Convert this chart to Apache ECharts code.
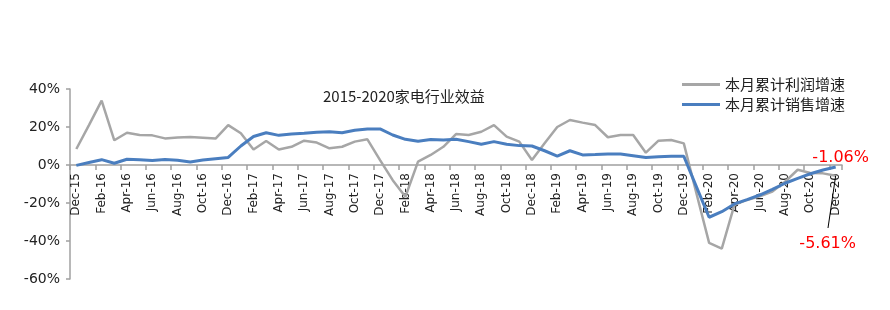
<!DOCTYPE html>
<html>
<head>
<meta charset="utf-8">
<title>2015-2020家电行业效益</title>
<script src="https://cdn.jsdelivr.net/npm/echarts@6/dist/echarts.min.js"></script>
<style>
  html, body { margin: 0; padding: 0; background: #fff; }
  #chart { width: 890px; height: 310px; }
</style>
</head>
<body>
<div id="chart"></div>
<script>
var months = [
  'Dec-15',
  'Jan-16','Feb-16','Mar-16','Apr-16','May-16','Jun-16','Jul-16','Aug-16','Sep-16','Oct-16','Nov-16','Dec-16',
  'Jan-17','Feb-17','Mar-17','Apr-17','May-17','Jun-17','Jul-17','Aug-17','Sep-17','Oct-17','Nov-17','Dec-17',
  'Jan-18','Feb-18','Mar-18','Apr-18','May-18','Jun-18','Jul-18','Aug-18','Sep-18','Oct-18','Nov-18','Dec-18',
  'Jan-19','Feb-19','Mar-19','Apr-19','May-19','Jun-19','Jul-19','Aug-19','Sep-19','Oct-19','Nov-19','Dec-19',
  'Jan-20','Feb-20','Mar-20','Apr-20','May-20','Jun-20','Jul-20','Aug-20','Sep-20','Oct-20','Nov-20','Dec-20'
];

// 本月累计利润增速 (%)
var profit = [
  8.4,
  21, 33.9, 13, 17, 15.8, 15.6, 14, 14.5, 14.7, 14.4, 13.9, 21,
  16.7, 8.2, 12.6, 8.2, 9.6, 12.8, 11.8, 8.8, 9.6, 12.3, 13.5, 2.6,
  -8, -16.7, 1.8, 5.3, 9.6, 16.3, 15.8, 17.5, 21, 14.9, 12.3, 2.6,
  11.4, 20, 23.7, 22.3, 21, 14.6, 15.8, 15.8, 6.5, 12.8, 13.2, 11.4,
  -15, -41, -44, -21, -18.4, -16.5, -14, -8.8, -2.5, -4.2, -4.4, -5.61
];

// 本月累计销售增速 (%)
var sales = [
  -0.2,
  1.3, 2.8, 0.9, 3, 2.8, 2.4, 2.9, 2.5, 1.6, 2.6, 3.3, 4,
  10, 15, 17, 15.6, 16.3, 16.7, 17.2, 17.5, 17, 18.3, 19, 19,
  15.8, 13.5, 12.5, 13.4, 13.2, 13.5, 12.3, 10.9, 12.3, 10.9, 10.2, 10,
  7.5, 4.7, 7.5, 5.3, 5.5, 5.8, 5.8, 4.9, 3.9, 4.4, 4.6, 4.6,
  -11.5, -27.5, -24.6, -20.5, -18.2, -15.8, -12.8, -9.6, -7, -4.6, -2.6, -1.06
];

var fontLatin = 'DejaVu Sans';
var fontCjk = '"Noto Sans CJK SC", "DejaVu Sans", sans-serif';
var gray = '#a6a6a6';
var blue = '#4a7ebf';
var red = '#ff0000';
var axisColor = '#a0a0a0';

var chart = echarts.init(document.getElementById('chart'));

var lastMonth = months[months.length - 1];
var lastProfit = profit[profit.length - 1];
var lastSales = sales[sales.length - 1];

// red value label at the last point of a series
function endMark(value, offset) {
  return {
    symbol: 'circle',
    symbolSize: 0,
    silent: true,
    label: {
      show: true, position: 'inside', offset: offset,
      formatter: value.toFixed(2) + '%',
      color: red, fontSize: 16, fontFamily: fontLatin
    },
    data: [{ coord: [lastMonth, value] }]
  };
}

var option = {
  animation: false,
  title: {
    text: '2015-2020家电行业效益',
    left: 318,
    top: 84,
    textStyle: { fontSize: 15, fontWeight: 'normal', color: '#222', fontFamily: fontCjk }
  },
  legend: {
    orient: 'vertical',
    right: 40,
    top: 72,
    itemGap: 5,
    itemWidth: 38,
    itemHeight: 3,
    icon: 'rect',
    textStyle: { fontSize: 15, color: '#222', fontFamily: fontCjk },
    data: ['本月累计利润增速', '本月累计销售增速']
  },
  grid: { left: 70, right: 48, top: 89, bottom: 31, containLabel: false, outerBoundsMode: 'none' },
  xAxis: {
    type: 'category',
    data: months,
    boundaryGap: true,
    offset: -114, // axis sits on the 0% line
    axisLine: { onZero: false, lineStyle: { color: axisColor, width: 1.5 } },
    axisTick: { show: true, interval: 1, length: 5, lineStyle: { color: axisColor, width: 1.5 } },
    axisLabel: {
      interval: 1, rotate: 90, margin: 8,
      fontSize: 12, color: '#222', fontFamily: fontLatin
    },
    splitLine: { show: false }
  },
  yAxis: {
    type: 'value',
    min: -60,
    max: 40,
    interval: 20,
    axisLine: { show: true, lineStyle: { color: axisColor, width: 1.5 } },
    axisTick: { show: true, length: 4, lineStyle: { color: axisColor, width: 1.5 } },
    axisLabel: {
      formatter: '{value}%', margin: 10,
      fontSize: 14, color: '#222', fontFamily: fontLatin
    },
    splitLine: { show: false }
  },
  series: [
    {
      name: '本月累计利润增速',
      type: 'line',
      data: profit,
      showSymbol: false,
      symbol: 'none',
      color: gray,
      lineStyle: { color: gray, width: 2.5 },
      z: 2,
      markPoint: endMark(lastProfit, [-8, 68]),
      markLine: {
        silent: true,
        symbol: 'none',
        label: { show: false },
        lineStyle: { color: '#000', width: 1, type: 'solid' },
        data: [[{ coord: [lastMonth, lastProfit] }, { x: 828, y: 228 }]]
      }
    },
    {
      name: '本月累计销售增速',
      type: 'line',
      data: sales,
      showSymbol: false,
      symbol: 'none',
      color: blue,
      lineStyle: { color: blue, width: 3 },
      z: 3,
      markPoint: endMark(lastSales, [5, -9])
    }
  ]
};

chart.setOption(option);
</script>
</body>
</html>
